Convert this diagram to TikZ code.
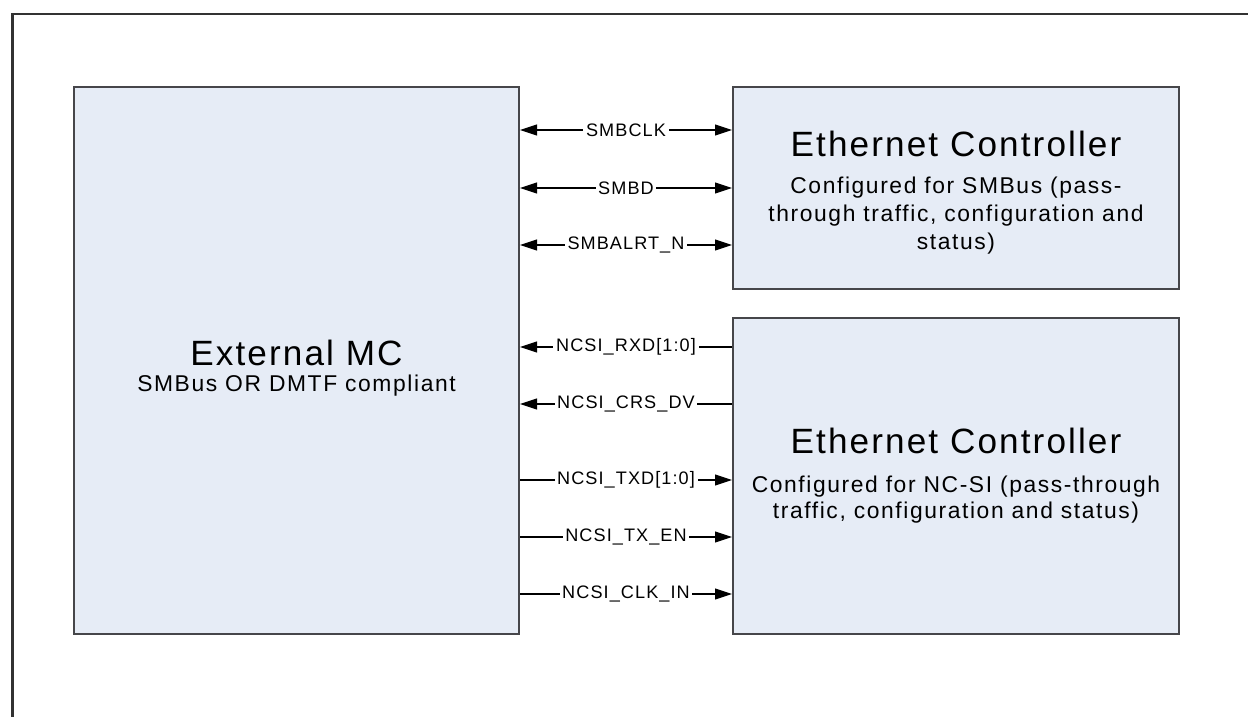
\documentclass[tikz,border=0pt]{standalone}
\usepackage{fontspec}
\setmainfont{Liberation Sans}[LetterSpace=6]
\newfontfamily\subfamily{Liberation Sans}[LetterSpace=7]
\usepackage{xcolor}
\usepackage{tikz}
\usetikzlibrary{arrows.meta}
\definecolor{boxfill}{RGB}{230,236,246}
\definecolor{boxline}{RGB}{70,70,74}
\definecolor{framecolor}{RGB}{50,50,50}
\tikzset{
  blk/.style={draw=boxline, fill=boxfill, line width=1.2pt, align=center, inner sep=0pt,
    font=\subfamily\fontsize{13}{16}\selectfont},
  sig/.style={line width=0.6pt, draw=black},
  both/.style={sig, {Triangle[length=3.4mm, width=2.2mm]}-{Triangle[length=3.4mm, width=2.2mm]}},
  tomc/.style={sig, {Triangle[length=3.4mm, width=2.2mm]}-},
  toec/.style={sig, -{Triangle[length=3.4mm, width=2.2mm]}},
  lbl/.style={font=\fontsize{10.3}{12}\selectfont, fill=white, inner sep=1.5pt},
  frame/.style={line width=1.6pt, draw=framecolor},
}
\newcommand{\ttltxt}{\rmfamily\fontsize{20}{24}\selectfont}

\begin{document}
\begin{tikzpicture}[x=0.02cm, y=-0.02cm]
\useasboundingbox (0,0) rectangle (1248,717);
\draw[frame] (12.5,717) -- (12.5,14) -- (1248,14);
\node[blk, minimum width=8.9cm, minimum height=10.94cm] (mc) at (296.5,360.5)
  {{\ttltxt\rule{0pt}{23pt}External MC}\\[-1pt]SMBus OR DMTF compliant};
\node[blk, minimum width=8.92cm, minimum height=4.04cm] (ecsmb) at (956,188)
  {{\ttltxt\rule{0pt}{20pt}Ethernet Controller}\\[5pt]Configured for SMBus (pass-\\through traffic, configuration and\\status)};
\node[blk, minimum width=8.92cm, minimum height=6.32cm] (ecncsi) at (956,476)
  {{\ttltxt Ethernet Controller}\\[6pt]Configured for NC-SI (pass-through\\[-1pt]traffic, configuration and status)};
\draw[both] (mc.east |- 0,130) -- node[lbl]{SMBCLK} (ecsmb.west |- 0,130);
\draw[both] (mc.east |- 0,188) -- node[lbl]{SMBD} (ecsmb.west |- 0,188);
\draw[both] (mc.east |- 0,245) -- node[lbl]{SMBALRT\_N} (ecsmb.west |- 0,245);
\draw[tomc] (mc.east |- 0,347) -- node[lbl]{NCSI\_RXD[1:0]} (ecncsi.west |- 0,347);
\draw[tomc] (mc.east |- 0,404) -- node[lbl]{NCSI\_CRS\_DV} (ecncsi.west |- 0,404);
\draw[toec] (mc.east |- 0,480) -- node[lbl]{NCSI\_TXD[1:0]} (ecncsi.west |- 0,480);
\draw[toec] (mc.east |- 0,537) -- node[lbl]{NCSI\_TX\_EN} (ecncsi.west |- 0,537);
\draw[toec] (mc.east |- 0,594) -- node[lbl]{NCSI\_CLK\_IN} (ecncsi.west |- 0,594);
\end{tikzpicture}
\end{document}
